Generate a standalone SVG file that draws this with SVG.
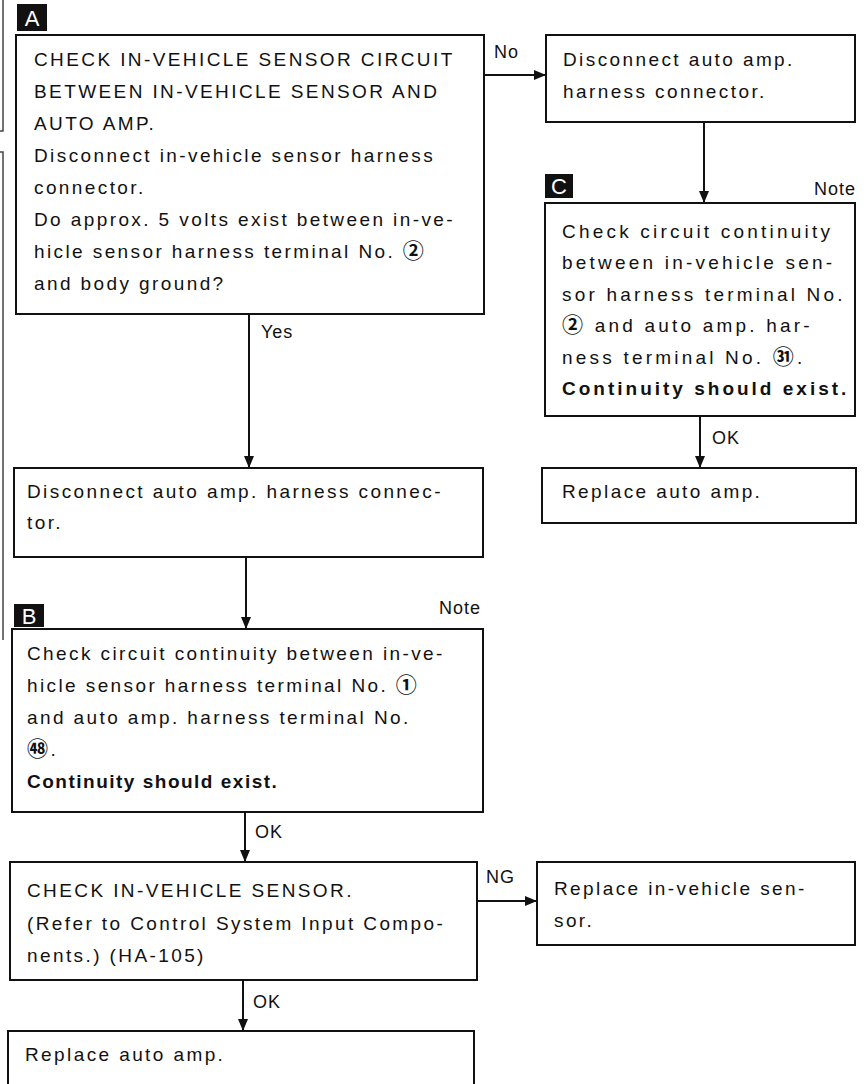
<svg xmlns="http://www.w3.org/2000/svg" width="866" height="1084" viewBox="0 0 866 1084">
<style>
.box{fill:#fff;stroke:#111;stroke-width:2}
.t{font-family:"Liberation Sans","Noto Sans CJK JP",Arial,sans-serif;font-size:19px;fill:#111;letter-spacing:2.4px}
.c{letter-spacing:3.2px}
.b{font-weight:bold;letter-spacing:1.5px}
.cb{font-weight:bold;letter-spacing:3px}
.n{font-family:"Noto Sans CJK JP","DejaVu Sans",sans-serif;font-size:21px;font-weight:bold}
.lbl{font-family:"Liberation Sans",Arial,sans-serif;font-size:18px;fill:#111;letter-spacing:1px}
.tag{fill:#111}
.tagt{font-family:"Liberation Sans",Arial,sans-serif;font-size:22px;fill:#fff}
.con{stroke:#111;stroke-width:2;fill:none}
.edge{stroke:#444;stroke-width:1.5;fill:none}
</style>
<defs>
<marker id="ah" markerWidth="12" markerHeight="10" refX="12" refY="5" orient="auto" markerUnits="userSpaceOnUse">
<path d="M0,0 L12,5 L0,10 Z" fill="#111"/>
</marker>
</defs>
<rect width="866" height="1084" fill="#fff"/>
<g id="page-edge">
<path class="edge" d="M3,0 V131 H0"/>
<path class="edge" d="M0,152 H3 V640"/>
</g>
<g id="connectors">
<line class="con" x1="484" y1="75" x2="546" y2="75" marker-end="url(#ah)"/>
<text class="lbl" x="494" y="58">No</text>
<line class="con" x1="704" y1="122" x2="704" y2="203" marker-end="url(#ah)"/>
<line class="con" x1="249" y1="314" x2="249" y2="468" marker-end="url(#ah)"/>
<text class="lbl" x="261" y="338">Yes</text>
<line class="con" x1="246" y1="557" x2="246" y2="629" marker-end="url(#ah)"/>
<line class="con" x1="245" y1="812" x2="245" y2="862" marker-end="url(#ah)"/>
<text class="lbl" x="255" y="838">OK</text>
<line class="con" x1="477" y1="901" x2="537" y2="901" marker-end="url(#ah)"/>
<text class="lbl" x="486" y="883">NG</text>
<line class="con" x1="243" y1="980" x2="243" y2="1031" marker-end="url(#ah)"/>
<text class="lbl" x="253" y="1008">OK</text>
<line class="con" x1="700" y1="416" x2="700" y2="468" marker-end="url(#ah)"/>
<text class="lbl" x="712" y="444">OK</text>
</g>
<g id="nodeA">
<rect class="tag" x="17" y="4" width="30" height="27"/>
<text class="tagt" x="32" y="26" text-anchor="middle">A</text>
<rect class="box" x="16" y="35" width="468" height="279"/>
<text class="t" x="34" y="66">CHECK IN-VEHICLE SENSOR CIRCUIT</text>
<text class="t" x="34" y="98">BETWEEN IN-VEHICLE SENSOR AND</text>
<text class="t" x="34" y="130">AUTO AMP.</text>
<text class="t" x="34" y="162">Disconnect in-vehicle sensor harness</text>
<text class="t" x="34" y="194">connector.</text>
<text class="t" x="34" y="226">Do approx. 5 volts exist between in-ve-</text>
<text class="t" x="34" y="258">hicle sensor harness terminal No. <tspan class="n">②</tspan></text>
<text class="t" x="34" y="290">and body ground?</text>
</g>
<g id="nodeDisconnect1">
<rect class="box" x="546" y="35" width="309" height="87"/>
<text class="t" x="563" y="66">Disconnect auto amp.</text>
<text class="t" x="563" y="98">harness connector.</text>
</g>
<g id="nodeC">
<rect class="tag" x="545" y="174" width="28" height="24"/>
<text class="tagt" x="559" y="194" text-anchor="middle">C</text>
<text class="lbl" x="856" y="195" text-anchor="end">Note</text>
<rect class="box" x="545" y="203" width="310" height="213"/>
<text class="t c" x="562" y="238">Check circuit continuity</text>
<text class="t c" x="562" y="269">between in-vehicle sen-</text>
<text class="t c" x="562" y="301">sor harness terminal No.</text>
<text class="t c" x="562" y="332"><tspan class="n">②</tspan> and auto amp. har-</text>
<text class="t c" x="562" y="364">ness terminal No. <tspan class="n">㉛</tspan>.</text>
<text class="t cb" x="562" y="395">Continuity should exist.</text>
</g>
<g id="nodeReplace1">
<rect class="box" x="542" y="468" width="314" height="55"/>
<text class="t" x="562" y="498">Replace auto amp.</text>
</g>
<g id="nodeDisconnect2">
<rect class="box" x="14" y="468" width="469" height="89"/>
<text class="t" x="27" y="498">Disconnect auto amp. harness connec-</text>
<text class="t" x="27" y="529">tor.</text>
</g>
<g id="nodeB">
<rect class="tag" x="14" y="604" width="30" height="23"/>
<text class="tagt" x="29" y="624" text-anchor="middle">B</text>
<text class="lbl" x="481" y="614" text-anchor="end">Note</text>
<rect class="box" x="12" y="629" width="471" height="183"/>
<text class="t" x="27" y="660">Check circuit continuity between in-ve-</text>
<text class="t" x="27" y="692">hicle sensor harness terminal No. <tspan class="n">①</tspan></text>
<text class="t" x="27" y="724">and auto amp. harness terminal No.</text>
<text class="t" x="27" y="756"><tspan class="n">㊽</tspan>.</text>
<text class="t b" x="27" y="788">Continuity should exist.</text>
</g>
<g id="nodeCheck">
<rect class="box" x="10" y="862" width="467" height="118"/>
<text class="t" x="27" y="897">CHECK IN-VEHICLE SENSOR.</text>
<text class="t" x="27" y="930">(Refer to Control System Input Compo-</text>
<text class="t" x="27" y="962">nents.) (HA-105)</text>
</g>
<g id="nodeReplaceSensor">
<rect class="box" x="537" y="862" width="318" height="83"/>
<text class="t" x="554" y="895">Replace in-vehicle sen-</text>
<text class="t" x="554" y="927">sor.</text>
</g>
<g id="nodeReplace2">
<rect class="box" x="8" y="1031" width="466" height="70"/>
<text class="t" x="25" y="1061">Replace auto amp.</text>
</g>
</svg>
